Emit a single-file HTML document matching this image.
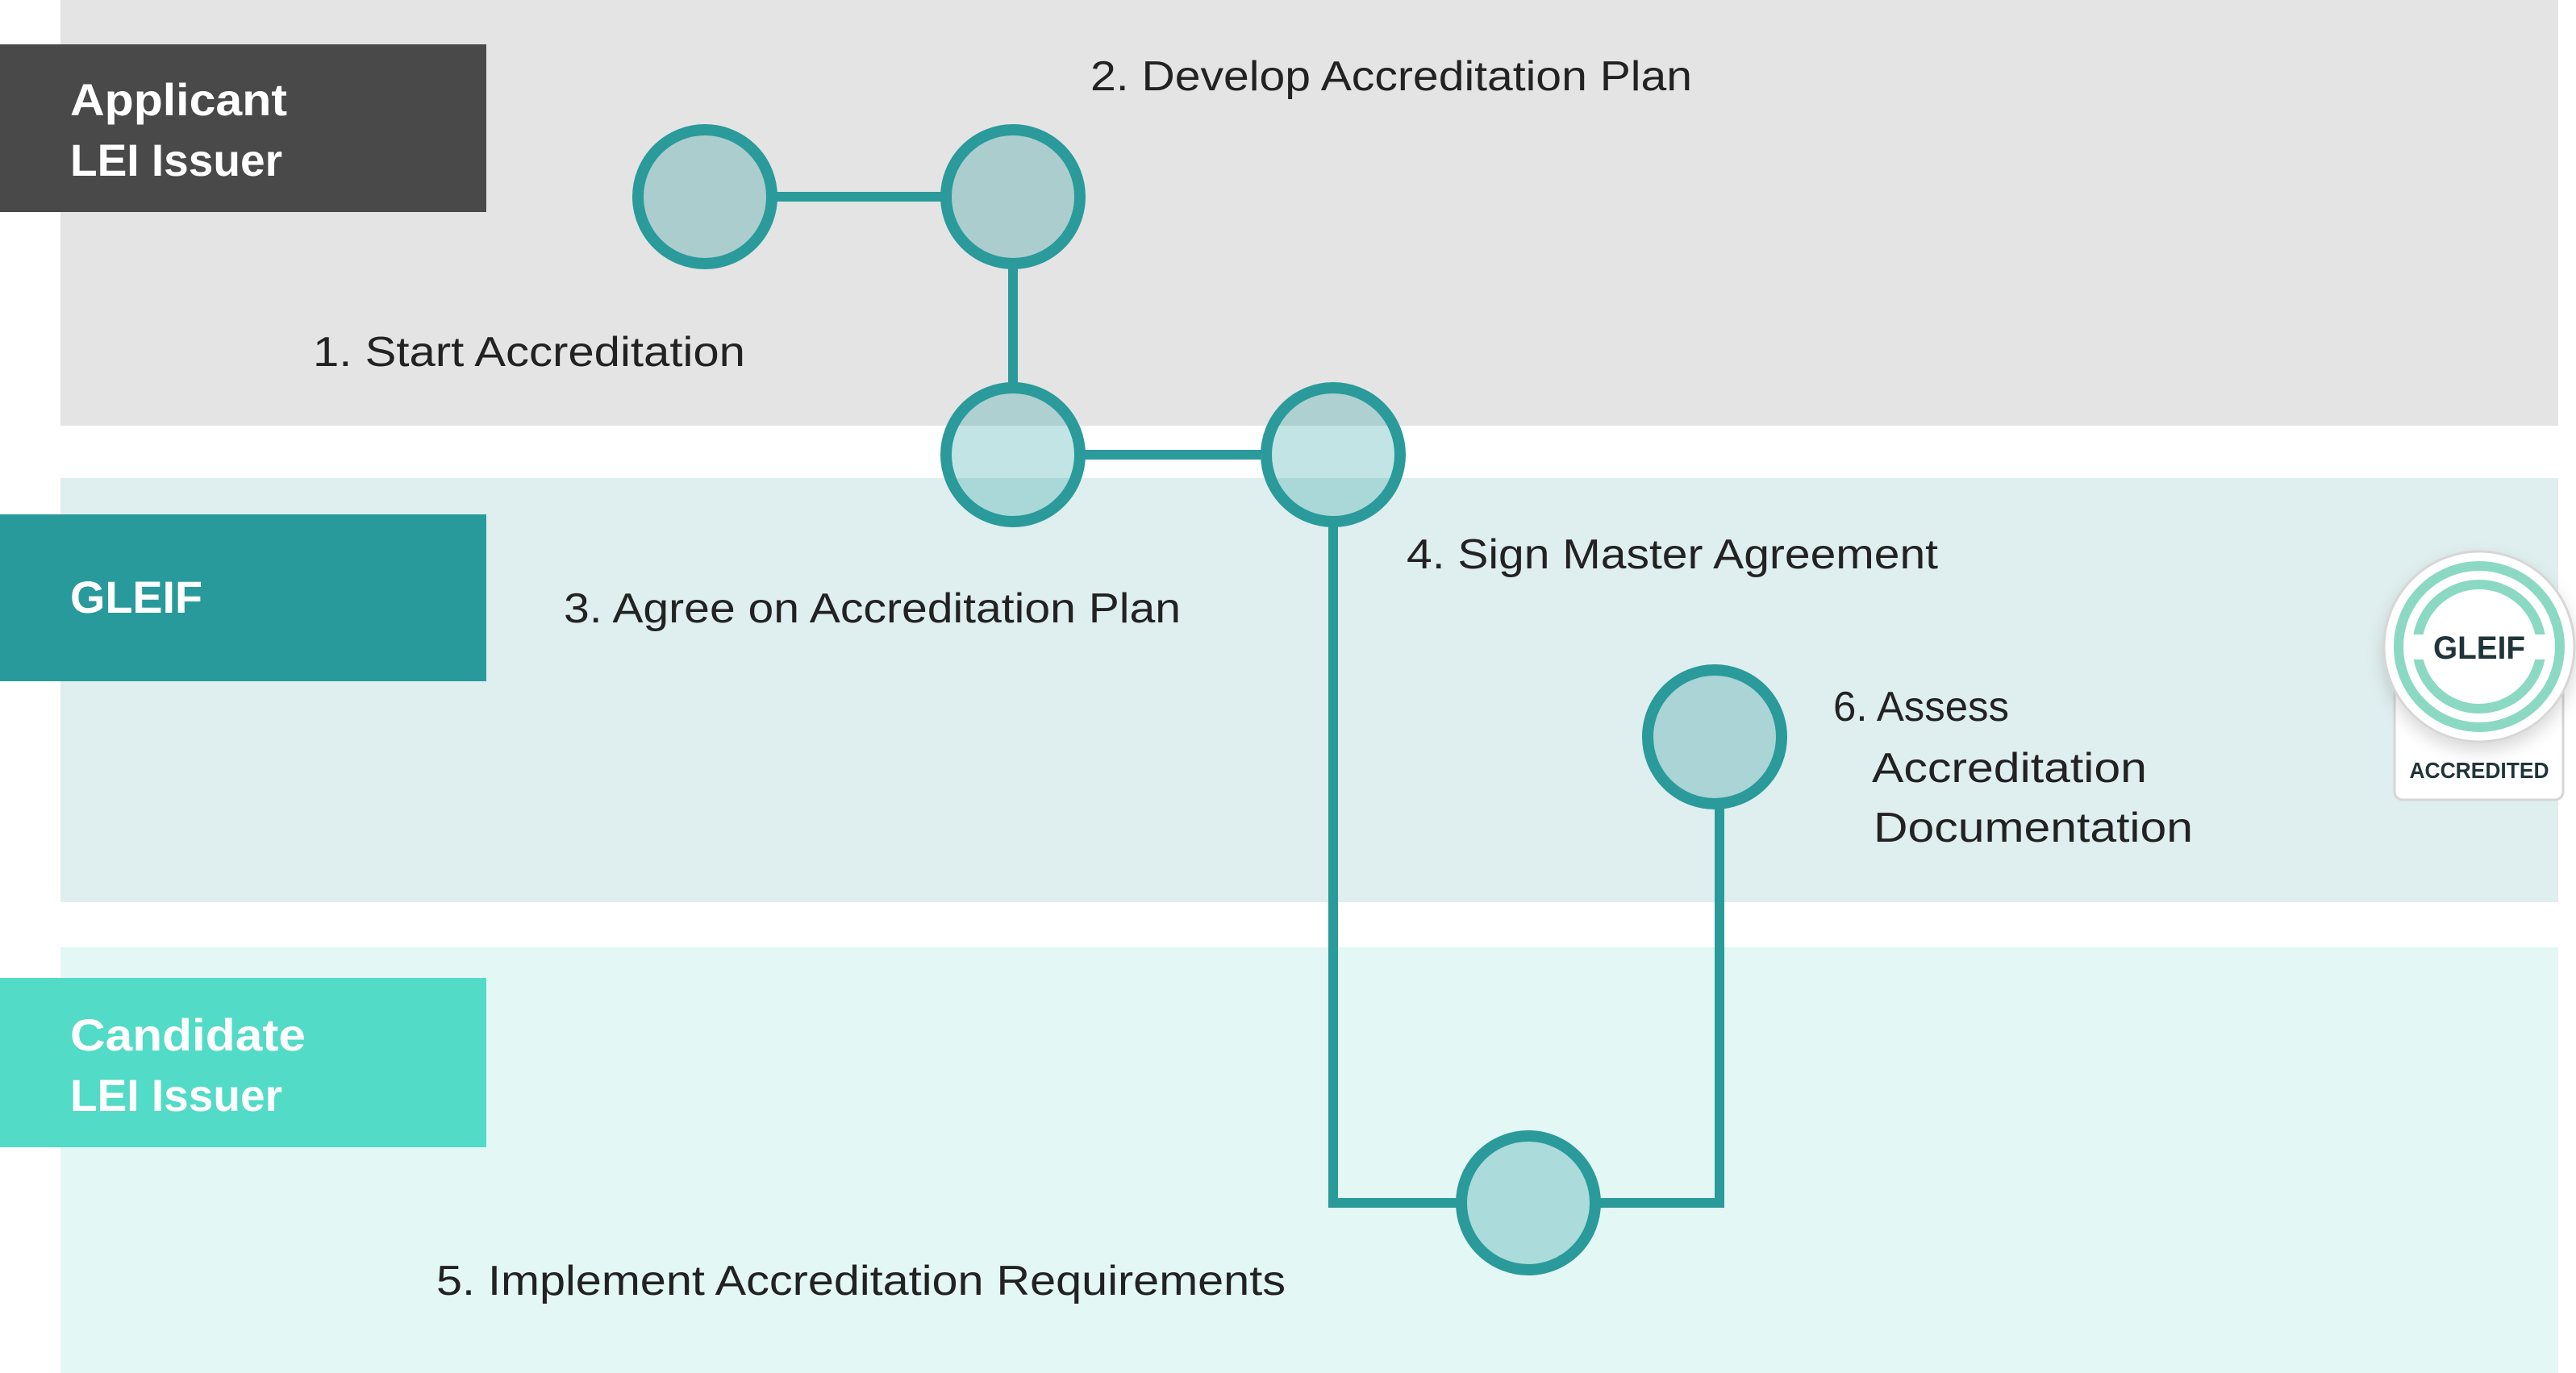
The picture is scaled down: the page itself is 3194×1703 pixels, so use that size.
<!DOCTYPE html>
<html><head><meta charset="utf-8"><style>html,body{margin:0;padding:0;background:#fff}svg{display:block}</style></head>
<body>
<svg width="3194" height="1703" viewBox="0 0 3194 1703" xmlns="http://www.w3.org/2000/svg">
<defs>
<filter id="sh" x="-30%" y="-30%" width="160%" height="160%"><feDropShadow dx="0" dy="10" stdDeviation="10" flood-color="#000" flood-opacity="0.15"/></filter>
<clipPath id="c3"><circle cx="1256" cy="564" r="83"/></clipPath>
<clipPath id="c4"><circle cx="1653" cy="564" r="83"/></clipPath>
<g id="bg">
<rect x="0" y="0" width="3194" height="1703" fill="#fff"/>
<rect x="75" y="0" width="3097" height="528" fill="#e4e4e4"/>
<rect x="75" y="593" width="3097" height="526" fill="#dfeeee"/>
</g>
</defs>
<rect x="75" y="0" width="3097" height="528" fill="#e4e4e4"/>
<rect x="75" y="593" width="3097" height="526" fill="#dfeeee"/>
<rect x="75" y="1175" width="3097" height="528" fill="#e3f7f5"/>

<rect x="0" y="55" width="603" height="208" fill="#494949"/>
<rect x="0" y="638" width="603" height="207" fill="#299a9b"/>
<rect x="0" y="1213" width="603" height="210" fill="#52dbc7"/>

<g font-family="Liberation Sans, sans-serif" font-weight="bold" font-size="56" fill="#fff">
<text x="87" y="143" textLength="269" lengthAdjust="spacingAndGlyphs">Applicant</text>
<text x="87" y="218" textLength="263" lengthAdjust="spacingAndGlyphs">LEI Issuer</text>
<text x="87" y="760" textLength="164" lengthAdjust="spacingAndGlyphs">GLEIF</text>
<text x="87" y="1303" textLength="292" lengthAdjust="spacingAndGlyphs">Candidate</text>
<text x="87" y="1378" textLength="263" lengthAdjust="spacingAndGlyphs">LEI Issuer</text>
</g>

<g stroke="#2a9a9b" stroke-width="12" fill="none">
<line x1="874" y1="244" x2="1256" y2="244"/>
<line x1="1256" y1="244" x2="1256" y2="564"/>
<line x1="1256" y1="564" x2="1653" y2="564"/>
<polyline points="1653,564 1653,1492 2132,1492 2132,914"/>
</g>
<g clip-path="url(#c3)"><use href="#bg"/></g>
<g clip-path="url(#c4)"><use href="#bg"/></g>
<g stroke="#2a9a9b" stroke-width="14">
<circle cx="874" cy="244" r="83" fill="#abcdcd"/>
<circle cx="1256" cy="244" r="83" fill="#abcdcd"/>
<circle cx="1256" cy="564" r="83" fill="rgba(20,150,150,0.26)"/>
<circle cx="1653" cy="564" r="83" fill="rgba(20,150,150,0.26)"/>
<circle cx="1895" cy="1492" r="83" fill="#abdbdb"/>
<circle cx="2126" cy="914" r="83" fill="#aad4d5"/>
</g>

<g font-family="Liberation Sans, sans-serif" font-size="52" fill="#222">
<text x="1352" y="112" textLength="746" lengthAdjust="spacingAndGlyphs">2. Develop Accreditation Plan</text>
<text x="388" y="454" textLength="536" lengthAdjust="spacingAndGlyphs">1. Start Accreditation</text>
<text x="699" y="772" textLength="765" lengthAdjust="spacingAndGlyphs">3. Agree on Accreditation Plan</text>
<text x="1744" y="705" textLength="659" lengthAdjust="spacingAndGlyphs">4. Sign Master Agreement</text>
<text x="541" y="1606" textLength="1053" lengthAdjust="spacingAndGlyphs">5. Implement Accreditation Requirements</text>
<text x="2273" y="894" textLength="218" lengthAdjust="spacingAndGlyphs">6. Assess</text>
<text x="2321" y="970" textLength="341" lengthAdjust="spacingAndGlyphs">Accreditation</text>
<text x="2323" y="1044" textLength="396" lengthAdjust="spacingAndGlyphs">Documentation</text>
</g>

<!-- badge -->
<rect x="2969" y="830" width="209" height="162" rx="10" fill="#fff" stroke="#d6d6d6" stroke-width="3"/>
<circle cx="3074" cy="802" r="118" fill="#fff" stroke="#d6d6d6" stroke-width="3" filter="url(#sh)"/>
<circle cx="3074" cy="802" r="100" fill="none" stroke="#8bd9c3" stroke-width="12"/>
<circle cx="3074" cy="802" r="77" fill="none" stroke="#8bd9c3" stroke-width="12"/>
<rect x="2990" y="787" width="170" height="31" fill="#fff"/>
<text x="3074" y="817" text-anchor="middle" font-family="Liberation Sans, sans-serif" font-weight="bold" font-size="40" fill="#1f3538" textLength="114" lengthAdjust="spacingAndGlyphs">GLEIF</text>
<text x="3074" y="965" text-anchor="middle" font-family="Liberation Sans, sans-serif" font-weight="bold" font-size="28" fill="#1f3538" textLength="173" lengthAdjust="spacingAndGlyphs">ACCREDITED</text>
</svg>
</body></html>
